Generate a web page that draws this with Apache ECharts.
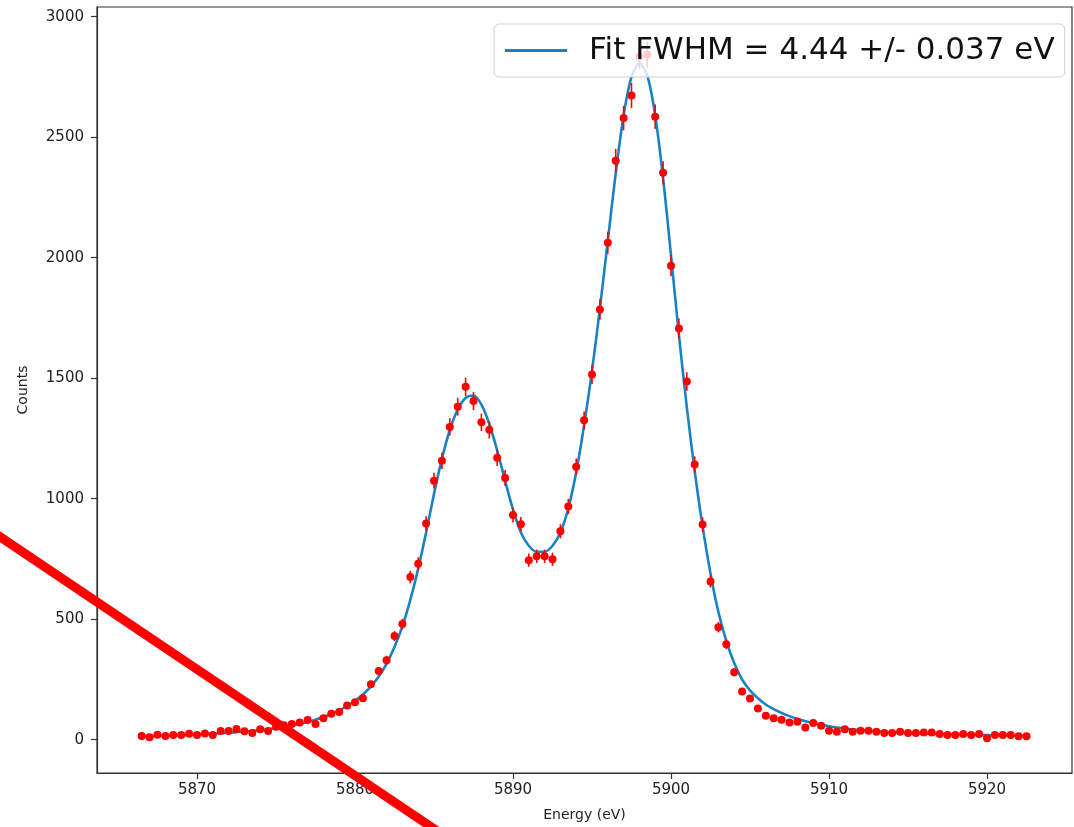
<!DOCTYPE html>
<html>
<head>
<meta charset="utf-8">
<script src="https://cdn.jsdelivr.net/npm/echarts@6/dist/echarts.min.js"></script>
<style>
html,body{margin:0;padding:0;background:#fff;}
#chart{width:1074px;height:827px;}
</style>
</head>
<body>
<div id="chart"></div>
<script>
// Energy bins (eV)
const energy = [
5866.5,5867,5867.5,5868,5868.5,5869,5869.5,5870,5870.5,5871,5871.5,5872,5872.5,5873,5873.5,5874,5874.5,5875,5875.5,5876,
5876.5,5877,5877.5,5878,5878.5,5879,5879.5,5880,5880.5,5881,5881.5,5882,5882.5,5883,5883.5,5884,5884.5,5885,5885.5,5886,
5886.5,5887,5887.5,5888,5888.5,5889,5889.5,5890,5890.5,5891,5891.5,5892,5892.5,5893,5893.5,5894,5894.5,5895,5895.5,5896,
5896.5,5897,5897.5,5898,5898.5,5899,5899.5,5900,5900.5,5901,5901.5,5902,5902.5,5903,5903.5,5904,5904.5,5905,5905.5,5906,
5906.5,5907,5907.5,5908,5908.5,5909,5909.5,5910,5910.5,5911,5911.5,5912,5912.5,5913,5913.5,5914,5914.5,5915,5915.5,5916,
5916.5,5917,5917.5,5918,5918.5,5919,5919.5,5920,5920.5,5921,5921.5,5922,5922.5
];
// Measured counts
const counts = [
16,10,21,16,20,20,25,20,26,20,36,36,45,35,28,44,36,54,60,65,
72,82,65,89,108,115,142,156,172,230,285,330,430,480,675,730,897,1075,1157,1298,
1382,1464,1405,1317,1286,1170,1086,932,894,745,761,761,749,865,968,1133,1325,1515,1785,2062,
2402,2579,2673,2835,2843,2585,2352,1967,1706,1486,1142,893,657,467,396,280,200,171,130,100,
89,83,72,75,51,69,58,37,33,44,33,37,37,33,28,28,33,28,28,30,
30,24,20,20,24,20,24,6,20,20,20,14,14
];
// Fitted curve values at the same energies
const fitCounts = [
15,15,16,17,18,19,20,22,23,25,27,29,31,34,37,40,44,48,53,59,
66,74,83,94,107,122,140,162,188,220,262,316,385,470,580,710,860,1020,1165,1285,
1370,1418,1428,1390,1310,1200,1075,955,860,805,780,780,805,860,960,1110,1305,1530,1790,2070,
2350,2590,2750,2805,2755,2590,2330,2010,1680,1380,1115,885,690,530,410,318,250,205,172,146,
127,111,98,87,77,69,62,56,51,47,43,40,38,35,33,31,30,28,27,26,
25,24,23,22,21,20,19,19,18,17,17,16,16
];
const xTicks = [5870,5880,5890,5900,5910,5920];
const yTicks = [0,500,1000,1500,2000,2500,3000];
const legendLabel = 'Fit FWHM = 4.44 +/- 0.037 eV';

const pts = energy.map((e,i)=>[e,counts[i]]);
const errs = energy.map((e,i)=>{const s=Math.sqrt(counts[i]);return [e,counts[i]-s,counts[i]+s];});
const fit = energy.map((e,i)=>[e,fitCounts[i]]);

const font = 'DejaVu Sans';
const chart = echarts.init(document.getElementById('chart'), null, {renderer:'canvas'});
chart.setOption({
  animation:false,
  backgroundColor:'#fff',
  textStyle:{fontFamily:font},
  grid:{left:97,right:2,top:7,bottom:53,show:true,borderColor:'#333',borderWidth:1.2,backgroundColor:'transparent'},
  xAxis:{
    type:'value',min:5863.67,max:5925.38,
    name:'Energy (eV)',nameLocation:'middle',nameGap:35,
    nameTextStyle:{fontFamily:font,fontSize:14,color:'#222'},
    axisLine:{show:true,onZero:false,lineStyle:{color:'#333',width:1.2}},
    axisTick:{show:true,length:6,inside:false,customValues:xTicks,lineStyle:{color:'#333',width:1.2}},
    axisLabel:{customValues:xTicks,fontFamily:font,fontSize:15,color:'#222',margin:10,formatter:v=>String(v)},
    splitLine:{show:false}
  },
  yAxis:{
    type:'value',min:-138,max:3040,
    name:'Counts',nameLocation:'middle',nameGap:67,nameRotate:90,
    nameTextStyle:{fontFamily:font,fontSize:14,color:'#222'},
    axisLine:{show:true,onZero:false,lineStyle:{color:'#333',width:1.2}},
    axisTick:{show:true,length:6,inside:false,customValues:yTicks,lineStyle:{color:'#333',width:1.2}},
    axisLabel:{customValues:yTicks,fontFamily:font,fontSize:15,color:'#222',margin:13,formatter:v=>String(v)},
    splitLine:{show:false}
  },
  legend:{
    left:494,top:24,
    padding:[11,10,11,11],
    backgroundColor:'rgba(255,255,255,0.8)',
    borderColor:'#d0d0d0',borderWidth:1,borderRadius:5,
    itemWidth:62,itemHeight:14,
    data:[{name:legendLabel,icon:'path://M0,0 L62,0 L62,3 L0,3 Z'}],
    textStyle:{fontFamily:font,fontSize:31,color:'#111',padding:[0,0,0,17]},
    z:20
  },
  series:[
    {
      name:legendLabel,type:'line',data:fit,smooth:0.3,showSymbol:false,symbol:'none',
      lineStyle:{color:'#1a82c2',width:2.6},itemStyle:{color:'#1a82c2'},z:3
    },
    {
      name:'errors',type:'custom',data:errs,z:4,
      renderItem:function(params,api){
        const p1=api.coord([api.value(0),api.value(1)]);
        const p2=api.coord([api.value(0),api.value(2)]);
        return {type:'line',shape:{x1:p1[0],y1:p1[1],x2:p2[0],y2:p2[1]},style:{stroke:'#ff0000',lineWidth:1.6}};
      }
    },
    {
      name:'data',type:'scatter',data:pts,symbol:'circle',symbolSize:8,
      itemStyle:{color:'#ff0000',opacity:1},z:5
    }
  ],
  graphic:[
    {type:'line',shape:{x1:-10,y1:530,x2:470,y2:853},style:{stroke:'#ff0000',lineWidth:9},z:100}
  ]
});
</script>
</body>
</html>
